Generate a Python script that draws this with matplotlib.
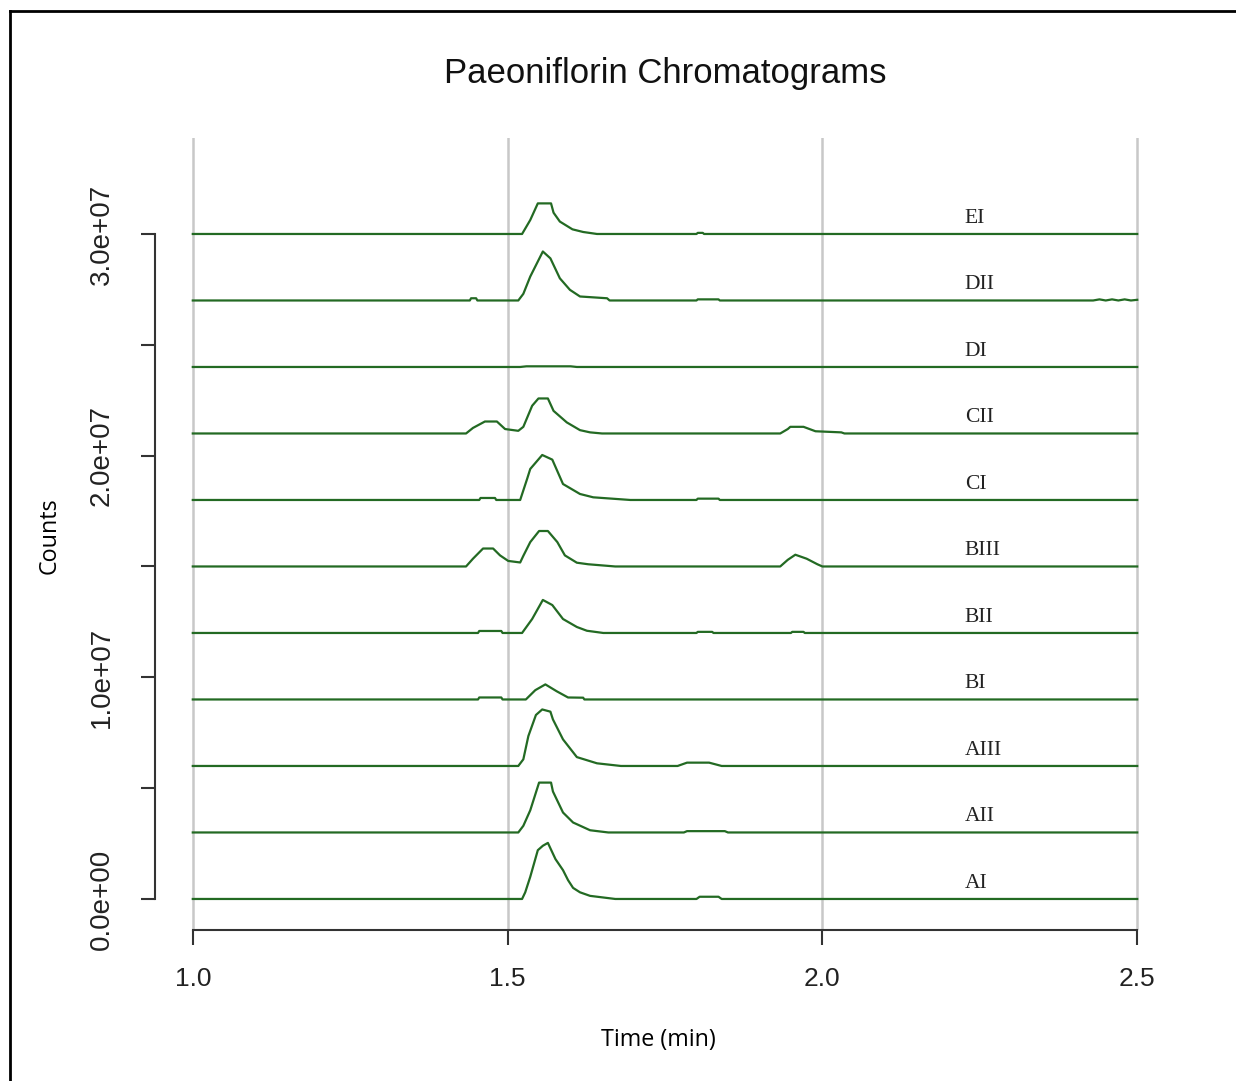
import matplotlib
matplotlib.use("Agg")
import matplotlib.pyplot as plt
from matplotlib.lines import Line2D

# sample names, baseline offsets (counts) and traces (time in min, height in 1e6 counts)
samples = ["AI", "AII", "AIII", "BI", "BII", "BIII", "CI", "CII", "DI", "DII", "EI"]
offsets = [0, 3e6, 6e6, 9e6, 1.2e7, 1.5e7, 1.8e7, 2.1e7, 2.4e7, 2.7e7, 3.0e7]

t_AI = [1.0, 1.523, 1.528, 1.536, 1.548, 1.556, 1.564, 1.576, 1.588, 1.596, 1.604, 1.615, 1.631, 1.671,
        1.80, 1.805, 1.835, 1.84, 2.5]
h_AI = [0, 0, 0.3, 1.0, 2.2, 2.4, 2.53, 1.8, 1.3, 0.85, 0.5, 0.3, 0.14, 0,
        0, 0.1, 0.1, 0, 0]

t_AII = [1.0, 1.517, 1.525, 1.536, 1.550, 1.569, 1.572, 1.588, 1.604, 1.631, 1.66, 1.78, 1.785, 1.845, 1.85, 2.5]
h_AII = [0, 0, 0.3, 1.0, 2.25, 2.25, 1.85, 0.9, 0.45, 0.1, 0, 0, 0.06, 0.06, 0, 0]

t_AIII = [1.0, 1.517, 1.525, 1.533, 1.545, 1.555, 1.568, 1.572, 1.588, 1.61, 1.642, 1.68, 1.77, 1.785, 1.82, 1.84, 2.5]
h_AIII = [0, 0, 0.3, 1.35, 2.3, 2.55, 2.45, 2.1, 1.2, 0.4, 0.12, 0, 0, 0.15, 0.15, 0, 0]

t_BI = [1.0, 1.453, 1.455, 1.49, 1.492, 1.529, 1.544, 1.560, 1.578, 1.596, 1.62, 1.622, 2.5]
h_BI = [0, 0, 0.09, 0.09, 0, 0, 0.42, 0.68, 0.37, 0.09, 0.08, 0, 0]

t_BII = [1.0, 1.453, 1.455, 1.49, 1.492, 1.523, 1.539, 1.556, 1.571, 1.588, 1.61, 1.626, 1.652,
         1.80, 1.802, 1.825, 1.827, 1.95, 1.952, 1.97, 1.972, 2.5]
h_BII = [0, 0, 0.09, 0.09, 0, 0, 0.63, 1.49, 1.26, 0.63, 0.27, 0.1, 0,
         0, 0.05, 0.05, 0, 0, 0.05, 0.05, 0, 0]

t_BIII = [1.0, 1.434, 1.445, 1.461, 1.477, 1.488, 1.501, 1.520, 1.525, 1.536, 1.550, 1.564, 1.579,
          1.591, 1.61, 1.628, 1.671, 1.933, 1.945, 1.957, 1.975, 1.992, 2.0, 2.5]
h_BIII = [0, 0, 0.35, 0.81, 0.81, 0.5, 0.25, 0.18, 0.48, 1.1, 1.6, 1.6, 1.1,
          0.5, 0.17, 0.1, 0, 0, 0.3, 0.53, 0.35, 0.1, 0, 0]

t_CI = [1.0, 1.455, 1.457, 1.48, 1.482, 1.52, 1.531, 1.536, 1.555, 1.571, 1.588, 1.615, 1.636, 1.695,
        1.80, 1.802, 1.835, 1.837, 2.5]
h_CI = [0, 0, 0.09, 0.09, 0, 0, 0.95, 1.4, 2.03, 1.82, 0.72, 0.27, 0.12, 0,
        0, 0.06, 0.06, 0, 0]

t_CII = [1.0, 1.434, 1.445, 1.464, 1.483, 1.496, 1.517, 1.525, 1.539, 1.549, 1.564, 1.573, 1.594,
         1.615, 1.631, 1.65, 1.933, 1.945, 1.949, 1.970, 1.989, 2.03, 2.035, 2.5]
h_CII = [0, 0, 0.25, 0.54, 0.54, 0.2, 0.12, 0.3, 1.25, 1.58, 1.58, 1.02, 0.5,
         0.15, 0.05, 0, 0, 0.2, 0.3, 0.3, 0.1, 0.05, 0, 0]

t_DI = [1.0, 1.52, 1.53, 1.60, 1.61, 2.5]
h_DI = [0, 0, 0.03, 0.03, 0, 0]

t_DII = [1.0, 1.44, 1.442, 1.45, 1.452, 1.517, 1.525, 1.536, 1.556, 1.568, 1.583, 1.599, 1.615,
         1.658, 1.662, 1.80, 1.802, 1.835, 1.837, 2.43, 2.44, 2.45, 2.46, 2.47, 2.48, 2.49, 2.5]
h_DII = [0, 0, 0.1, 0.1, 0, 0, 0.3, 1.08, 2.21, 1.9, 1.0, 0.48, 0.18,
         0.1, 0, 0, 0.05, 0.05, 0, 0, 0.05, 0, 0.05, 0, 0.05, 0, 0.03]

t_EI = [1.0, 1.523, 1.536, 1.548, 1.569, 1.573, 1.583, 1.603, 1.62, 1.642, 1.80, 1.802, 1.81, 1.812, 2.5]
h_EI = [0, 0, 0.63, 1.38, 1.38, 0.96, 0.56, 0.21, 0.09, 0, 0, 0.05, 0.05, 0, 0]

times = [t_AI, t_AII, t_AIII, t_BI, t_BII, t_BIII, t_CI, t_CII, t_DI, t_DII, t_EI]
heights = [h_AI, h_AII, h_AIII, h_BI, h_BII, h_BIII, h_CI, h_CII, h_DI, h_DII, h_EI]

x_ticks = [1.0, 1.5, 2.0, 2.5]
x_ticklabels = ["1.0", "1.5", "2.0", "2.5"]
y_ticks = [0, 5e6, 1e7, 1.5e7, 2e7, 2.5e7, 3e7]
y_ticklabels = ["0.0e+00", "", "1.0e+07", "", "2.0e+07", "", "3.0e+07"]
label_time = 2.226

fig = plt.figure(figsize=(12.36, 10.81), dpi=100)
ax = fig.add_axes([155 / 1236, 1 - 930 / 1081, 1020 / 1236, 792 / 1081])

for x in x_ticks:
    ax.axvline(x, color="#c8c8c8", lw=1.8, zorder=1)

for name, off, t, h in zip(samples, offsets, times, heights):
    ax.plot(t, [off + v * 1e6 for v in h], color="#236a23", lw=1.6, zorder=2)
    ax.text(label_time, off + 0.5e6, name, family="Liberation Serif", fontsize=15.5,
            ha="left", va="baseline", color="#222222")

ax.set_xlim(0.94, 2.56)
ax.set_ylim(-1.4e6, 34.33e6)

ax.spines["top"].set_visible(False)
ax.spines["right"].set_visible(False)
ax.spines["left"].set_bounds(0, 3e7)
ax.spines["bottom"].set_bounds(1.0, 2.5)
for s in ("left", "bottom"):
    ax.spines[s].set_color("#333333")
    ax.spines[s].set_linewidth(1.5)

ax.set_xticks(x_ticks)
ax.set_xticklabels(x_ticklabels, family="Liberation Sans", fontsize=19, color="#222222")
ax.set_yticks(y_ticks)
ax.set_yticklabels(y_ticklabels, family=["Liberation Sans Narrow", "Liberation Sans"],
                   fontsize=20, rotation=90, va="center", color="#222222")
ax.tick_params(axis="x", length=11, width=1.5, color="#333333", pad=16)
ax.tick_params(axis="y", length=10, width=1.5, color="#333333", pad=19)

fig.text(665 / 1236, 1 - 73 / 1081, "Paeoniflorin Chromatograms", family="Liberation Sans",
         fontsize=25, ha="center", va="center", color="#111111")
fig.text(658 / 1236, 1 - 1040 / 1081, "Time (min)", family="Open Sans", fontsize=16.8,
         ha="center", va="center")
fig.text(50 / 1236, 1 - 536 / 1081, "Counts", family="Open Sans", fontsize=16.8,
         rotation=90, ha="center", va="center")

# outer frame (top and left edges visible)
fig.add_artist(Line2D([10 / 1236, 1.0], [1 - 11 / 1081, 1 - 11 / 1081], color="black", lw=2,
                      transform=fig.transFigure))
fig.add_artist(Line2D([10 / 1236, 10 / 1236], [0.0, 1 - 11 / 1081], color="black", lw=2,
                      transform=fig.transFigure))

fig.savefig("out.png", dpi=100)
